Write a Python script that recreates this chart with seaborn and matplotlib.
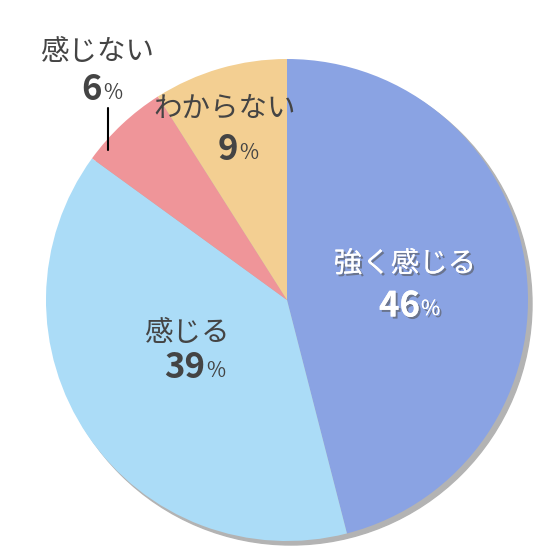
import matplotlib
matplotlib.use('Agg')
import matplotlib.pyplot as plt
import matplotlib.patheffects as pe
from matplotlib.patches import Circle
import seaborn as sns

labels = ['強く感じる', '感じる', '感じない', 'わからない']
values = [46, 39, 6, 9]
colors = ['#8aa3e3', '#abdcf7', '#ef9599', '#f3cf92']

sns.set_style('white')
plt.rcParams['font.family'] = ['Noto Sans CJK JP', 'DejaVu Sans']

fig = plt.figure(figsize=(5.6, 5.6), dpi=100)
ax = fig.add_axes([0, 0, 1, 1])

def py(y):
    return 560 - y

cx, cy, r = 287, py(300), 241

# shadow
ax.add_patch(Circle((cx + 4, cy - 4), r, color='#b3b3b3', zorder=0))
ax.pie(values, colors=colors, startangle=90, counterclock=False,
       center=(cx, cy), radius=r, frame=True,
       wedgeprops=dict(linewidth=0))
ax.set_xlim(0, 560)
ax.set_ylim(0, 560)
ax.set_aspect('equal')
ax.axis('off')

shadow = [pe.withSimplePatchShadow(offset=(1.5, -1.5), shadow_rgbFace='#555555', alpha=0.6), pe.Normal()]
dark = '#444444'

def label(name, pct, x, y, ypct, xsplit, color, effects=None):
    ax.text(x, py(y), name, ha='center', va='center', fontsize=20.5,
            color=color, path_effects=effects)
    ax.text(xsplit, py(ypct), str(pct), ha='right', va='center', fontsize=25,
            fontweight='bold', color=color, path_effects=effects)
    ax.text(xsplit + 1, py(ypct + 3), '%', ha='left', va='center', fontsize=15,
            color=color, path_effects=effects)

label(labels[0], values[0], 405, 264, 306, 420, 'white', shadow)
label(labels[1], values[1], 187, 333, 368, 205, dark)
label(labels[2], values[2], 97, 52, 90, 102, dark)
label(labels[3], values[3], 225, 108, 150, 238, dark)

ax.plot([108, 108], [py(108), py(150)], color='black', linewidth=1.5)

fig.savefig('out.png', dpi=100)
